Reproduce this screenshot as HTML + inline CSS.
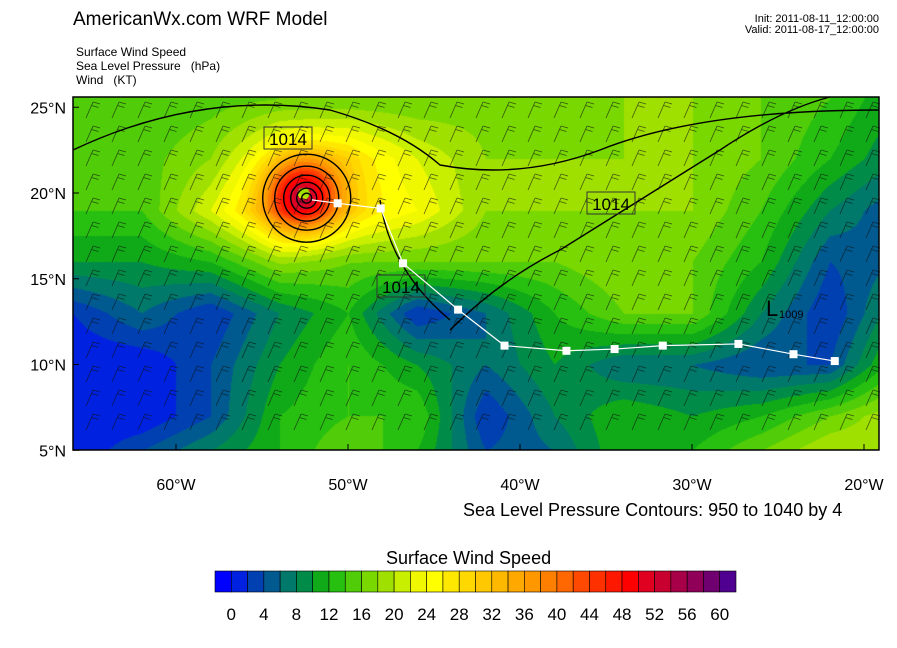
<!DOCTYPE html>
<html><head><meta charset="utf-8"><style>
body{margin:0;background:#fff;width:897px;height:648px;position:relative;font-family:"Liberation Sans",sans-serif;overflow:hidden}
.t{position:absolute;white-space:nowrap;color:#000}
</style></head><body>
<div class="t" style="left:73px;top:9px;font-size:19px">AmericanWx.com WRF Model</div>
<div class="t" style="left:735px;top:14px;font-size:11px;line-height:11px;text-align:right;width:144px">Init: 2011-08-11_12:00:00<br>Valid: 2011-08-17_12:00:00</div>
<div class="t" style="left:76px;top:45px;font-size:12px;line-height:14px">Surface Wind Speed<br>Sea Level Pressure &nbsp; (hPa)<br>Wind &nbsp; (KT)</div>
<canvas id="cv" width="806" height="353" style="position:absolute;left:73px;top:97px"></canvas>
<svg id="sv" width="897" height="648" style="position:absolute;left:0;top:0"></svg>
<div class="t" style="left:463px;top:500px;font-size:18px">Sea Level Pressure Contours: 950 to 1040 by 4</div>
<div class="t" style="left:386px;top:548px;font-size:18px">Surface Wind Speed</div>
<script>
const lonsW=[66,62,58,54,50,46,42,38,34,30,26,22,18];
const lats=[25.5,22,19,16,13,10,7,5];
const speed=[
[16,16,17,18,18,18,19,19,20,20,18,16,12],
[16,17,20,28,30,24,20,20,20,20,18,14,10],
[16,16,24,34,30,26,20,20,20,20,16,10,6],
[12,12,14,20,18,18,18,18,20,18,14,6,8],
[4,8,4,10,14,4,8,14,18,18,10,4,12],
[2,2,6,12,16,12,8,12,8,8,6,6,16],
[2,2,6,14,16,16,4,10,14,12,14,18,22],
[2,6,10,14,18,14,6,8,14,14,18,22,22]];
const stormLonW=[52.6];
const stormLat=[20.0];
const stormBoost=[24];
const trackLonW=[52.1,50.6,48.1,46.8,43.6,40.9,37.3,34.5,31.7,27.3,24.1,21.7];
const trackLat=[19.6,19.4,19.1,15.9,13.2,11.1,10.8,10.9,11.1,11.2,10.6,10.2];
const lonTicks=[60,50,40,30,20];
const latTicks=[25,20,15,10,5];
const cbLabels=[0,4,8,12,16,20,24,28,32,36,40,44,48,52,56,60];
const colors=["#0000ff","#0022e0","#0040b0","#005a90","#00786a","#008c48","#10aa18","#28c010","#50cc08","#78d800","#a0e000","#c8ee00","#f0f800","#ffff00","#ffe800","#ffd800","#ffc800","#ffb800","#ffa800","#ff9800","#ff8000","#ff6800","#ff4800","#ff3000","#ff1800","#ff0000","#e00020","#c80030","#a80048","#900058","#700070","#500090"];
const X=lw=>176+(60-lw)*17.2, Y=la=>193+(20-la)*17.15;
const cv=document.getElementById('cv'),ctx=cv.getContext('2d'),img=ctx.createImageData(806,353);
function rgb(h){return [parseInt(h.substr(1,2),16),parseInt(h.substr(3,2),16),parseInt(h.substr(5,2),16)];}
const crgb=colors.map(rgb);
function interp(arr,v){
  for(let i=0;i<arr.length-1;i++){if(v<=arr[i]&&v>=arr[i+1])return i+(arr[i]-v)/(arr[i]-arr[i+1]);}
  return v>arr[0]?0:arr.length-1;}
for(let py=0;py<353;py++){const la=20-(py+97-193)/17.15;const fi=interp(lats,la);const i0=Math.min(Math.floor(fi),lats.length-2),ty=fi-i0;
 for(let px=0;px<806;px++){const lw=60-(px+73-176)/17.2;const fj=interp(lonsW,lw);const j0=Math.min(Math.floor(fj),lonsW.length-2),tx=fj-j0;
  let v=(speed[i0][j0]*(1-tx)+speed[i0][j0+1]*tx)*(1-ty)+(speed[i0+1][j0]*(1-tx)+speed[i0+1][j0+1]*tx)*ty;
  for(let s=0;s<stormLonW.length;s++){const d2=(lw-stormLonW[s])**2+(la-stormLat[s])**2;v+=stormBoost[s]*Math.exp(-d2/4.5)*(d2<0.12?-0.4:1);}
  const c=crgb[Math.max(0,Math.min(31,Math.floor(v/2)))];const k=(py*806+px)*4;img.data[k]=c[0];img.data[k+1]=c[1];img.data[k+2]=c[2];img.data[k+3]=255;}}
ctx.putImageData(img,0,0);
const sv=document.getElementById('sv'),NS="http://www.w3.org/2000/svg";
function el(t,a,p){const e=document.createElementNS(NS,t);for(const k in a)e.setAttribute(k,a[k]);(p||sv).appendChild(e);return e;}
const bg=el('g',{stroke:'#111','stroke-width':0.8,fill:'none',opacity:0.65});


for(let y=112;y<445;y+=24)for(let x=86;x<875;x+=26){el('path',{d:`M${x} ${y+6}l7 -16m0 0l7 2m-8.5 1.5l7 2`},bg);}
const cx=X(52.4),cy=Y(19.7);
[5,10,16,23,32,44].forEach(r=>{const c=el('circle',{cx:cx,cy:cy,r:r,fill:'none',stroke:'#000','stroke-width':1.4});});
const cp=el('path',{d:'M73 150 Q200 90 330 110 Q400 130 440 165 Q520 180 600 150 Q700 110 879 110 M380 200 Q390 270 450 320 M450 330 Q500 280 560 250 Q640 200 720 150 Q780 110 830 97',fill:'none',stroke:'#000','stroke-width':1.4});

[[288,139],[611,204],[401,287]].forEach(p=>{const g=el('g',{});el('rect',{x:p[0]-24,y:p[1]-12,width:48,height:22,fill:'none',stroke:'#333'},g);const t=el('text',{x:p[0],y:p[1]+6,'font-size':17,'text-anchor':'middle'},g);t.textContent='1014';});
const lt=el('text',{x:766,y:316,'font-size':22});lt.textContent='L';
const lt2=el('text',{x:779,y:318,'font-size':11});lt2.textContent='1009';
const pts=trackLonW.map((l,i)=>X(l)+','+Y(trackLat[i])).join(' ');
const tl=el('polyline',{points:pts,fill:'none',stroke:'#fff','stroke-width':1.2});

trackLonW.forEach((l,i)=>{if(i==0)return;const r=el('rect',{x:X(l)-4,y:Y(trackLat[i])-4,width:8,height:8,fill:'#fff'});});
const fr=el('rect',{x:73,y:97,width:806,height:353,fill:'none',stroke:'#000','stroke-width':1.5});

lonTicks.forEach(l=>{const x=X(l);el('line',{x1:x,x2:x,y1:450,y2:444,stroke:'#000'});const t=el('text',{x:x,y:490,'font-size':16,'text-anchor':'middle'});t.textContent=l+'°W';});
latTicks.forEach(l=>{const y=Y(l);el('line',{x1:73,x2:79,y1:y,y2:y,stroke:'#000'});const t=el('text',{x:66,y:y+6,'font-size':16,'text-anchor':'end'});t.textContent=l+'°N';});
const bw=521/32;
colors.forEach((c,i)=>{const r=el('rect',{x:215+i*bw,y:571,width:bw,height:21,fill:c,stroke:'#000','stroke-width':0.6});});
cbLabels.forEach((v,i)=>{const t=el('text',{x:215+(v/2+1)*bw,y:620,'font-size':17,'text-anchor':'middle'});t.textContent=v;});
</script>
</body></html>
